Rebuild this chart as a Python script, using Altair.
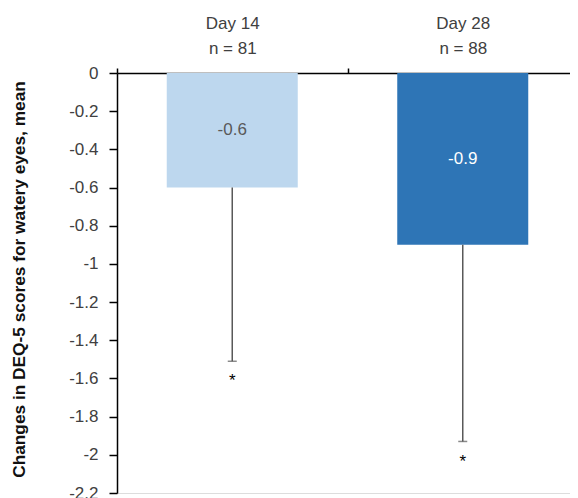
import altair as alt
import pandas as pd

categories = ["Day 14|n = 81", "Day 28|n = 88"]
means = [-0.6, -0.9]
lower = [-1.51, -1.93]
bar_labels = ["-0.6", "-0.9"]
star_pos = [-1.6, -2.02]
bar_colors = ["#BDD7EE", "#2E75B6"]
text_colors = ["#595959", "#FFFFFF"]
tick_values = [0, -0.2, -0.4, -0.6, -0.8, -1.0, -1.2, -1.4, -1.6, -1.8, -2.0, -2.2]

df = pd.DataFrame({
    "cat": categories,
    "mean": means,
    "lower": lower,
    "label": bar_labels,
    "star": star_pos,
    "bc": bar_colors,
    "tc": text_colors,
})

FONT = "Liberation Sans"

x = alt.X(
    "cat:N",
    sort=categories,
    scale=alt.Scale(paddingInner=0, paddingOuter=0, range=[0, 461]),
    axis=alt.Axis(
        orient="top", title=None, labelAngle=0,
        labelExpr="split(datum.label, '|')",
        tickBand="extent", domainColor="black", tickColor="black",
        tickSize=5, domainWidth=1.5, tickWidth=1.5,
        labelFontSize=17, labelColor="#404040", labelPadding=40,
        labelBaseline="alphabetic", labelLineHeight=25, labelFont=FONT,
    ),
)

y_axis = alt.Axis(
    values=tick_values,
    tickCount=len(tick_values),
    labelExpr="replace(format(datum.value, '~g'), '\u2212', '-')",
    labelOverlap=False,
    title="Changes in DEQ-5 scores for watery eyes, mean",
    titleFontWeight="bold", titleFontSize=17.3, titleColor="#111111",
    titleFont=FONT, titleX=-98, titleY=206, titleBaseline="middle",
    titleAlign="center",
    grid=False, tickSize=8, tickColor="black", domainColor="black",
    domainWidth=1.5, tickWidth=1.5, labelFontSize=17, labelColor="#404040",
    labelFont=FONT, labelPadding=11,
)
y_scale = alt.Scale(domain=[-2.2, 0], nice=False, zero=False)

base = alt.Chart(df)

bars = base.mark_bar(size=131).encode(
    x=x,
    y=alt.Y("mean:Q", scale=y_scale, axis=y_axis),
    color=alt.Color("bc:N", scale=None),
)

texts = base.transform_calculate(mid="datum.mean / 2").mark_text(
    fontSize=17, font=FONT, baseline="middle"
).encode(
    x=alt.X("cat:N", sort=categories),
    y=alt.Y("mid:Q"),
    text="label:N",
    color=alt.Color("tc:N", scale=None),
)

rules = base.mark_rule(color="#595959", strokeWidth=1.5).encode(
    x=alt.X("cat:N", sort=categories),
    y=alt.Y("mean:Q"),
    y2="lower:Q",
)

caps = base.mark_tick(color="#595959", size=9, thickness=1.5).encode(
    x=alt.X("cat:N", sort=categories),
    y=alt.Y("lower:Q"),
)

stars = base.mark_text(text="*", fontSize=17, font=FONT, color="black",
                       baseline="middle", dy=3).encode(
    x=alt.X("cat:N", sort=categories),
    y=alt.Y("star:Q"),
)

chart = alt.layer(bars, texts, rules, caps, stars).properties(
    width=453,
    height=420,
    autosize=alt.AutoSizeParams(type="none"),
    padding={"left": 109, "top": 65, "right": 0, "bottom": 10},
).configure_view(stroke=None).configure(font=FONT)

chart.save("out.html", embed_options={"renderer": "svg", "actions": False})
